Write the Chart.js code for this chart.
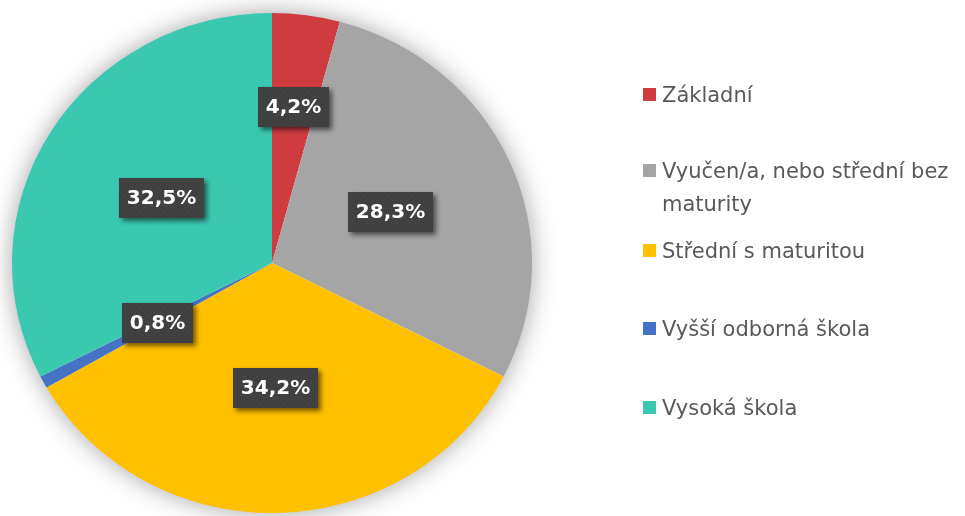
<!DOCTYPE html>
<html>
<head>
<meta charset="utf-8">
<script src="https://cdn.jsdelivr.net/npm/chart.js@4"></script>
<style>
  html, body { margin: 0; padding: 0; background: #ffffff; }
  #wrap { width: 965px; height: 516px; }
</style>
</head>
<body>
<div id="wrap"><canvas id="c" width="965" height="516"></canvas></div>
<script>
// ---- data ----
const categories = ['Základní', 'Vyučen/a, nebo střední bez maturity', 'Střední s maturitou', 'Vyšší odborná škola', 'Vysoká škola'];
const shares = [4.2, 28.3, 34.2, 0.8, 32.5];
const legendLines = [['Základní'], ['Vyučen/a, nebo střední bez', 'maturity'], ['Střední s maturitou'], ['Vyšší odborná škola'], ['Vysoká škola']];
const sliceColors = ['#D03B40', '#A5A5A5', '#FFC000', '#4472C4', '#3AC9B0'];

// ---- styling constants ----
const SY = 250 / 260;            // vertical squash of the pie (reference is slightly elliptical)
const LABEL_FONT = 'bold 20px "DejaVu Sans"';
const LEGEND_FONT = '21px "DejaVu Sans"';

function fmt(v) { return v.toFixed(1).replace('.', ',') + '%'; }

let dotPattern = null;
function getPattern(ctx) {
  if (dotPattern) return dotPattern;
  const p = document.createElement('canvas');
  p.width = 6; p.height = 6;
  const pc = p.getContext('2d');
  pc.fillStyle = '#404040';
  pc.fillRect(0, 0, 6, 6);
  pc.fillStyle = '#4b4b4b';
  pc.fillRect(1, 1, 1, 1);
  pc.fillRect(4, 4, 1, 1);
  dotPattern = ctx.createPattern(p, 'repeat');
  return dotPattern;
}

const piePlugin = {
  id: 'piePlugin',
  beforeDatasetsDraw(chart) {
    const ctx = chart.ctx;
    const arc = chart.getDatasetMeta(0).data[0];
    const cx = arc.x, cy = arc.y, r = arc.outerRadius;
    ctx.save();
    ctx.translate(cx, cy);
    ctx.scale(1, SY);
    ctx.translate(-cx, -cy);
    ctx.save();
    ctx.shadowColor = 'rgba(0,0,0,0.38)';
    ctx.shadowBlur = 26;
    ctx.fillStyle = '#ffffff';
    ctx.beginPath();
    ctx.arc(cx, cy, r - 1, 0, Math.PI * 2);
    ctx.fill();
    ctx.restore();
  },
  afterDatasetsDraw(chart) {
    const ctx = chart.ctx;
    ctx.restore();
    // value labels
    const meta = chart.getDatasetMeta(0);
    ctx.save();
    ctx.font = LABEL_FONT;
    meta.data.forEach((arc, i) => {
      const mid = (arc.startAngle + arc.endAngle) / 2;
      const f = i === 0 ? 0.63 : 0.5;
      const x = arc.x + Math.cos(mid) * arc.outerRadius * f;
      const y = arc.y + Math.sin(mid) * arc.outerRadius * f * SY;
      const txt = fmt(chart.data.datasets[0].data[i]);
      const tw = ctx.measureText(txt).width;
      const w = Math.round(tw + 16), h = 40;
      const bx = Math.round(x - w / 2), by = Math.round(y - h / 2);
      ctx.save();
      ctx.shadowColor = 'rgba(0,0,0,0.55)';
      ctx.shadowBlur = 5;
      ctx.shadowOffsetX = 3;
      ctx.shadowOffsetY = 3;
      ctx.fillStyle = getPattern(ctx);
      ctx.fillRect(bx, by, w, h);
      ctx.restore();
      ctx.fillStyle = '#ffffff';
      ctx.textAlign = 'center';
      ctx.textBaseline = 'middle';
      ctx.fillText(txt, bx + w / 2, by + h / 2 + 1);
    });
    ctx.restore();
  },
  afterDraw(chart) {
    // legend built from chart data and dataset colours
    const ctx = chart.ctx;
    const centers = [94, 170, 250, 328, 407];
    ctx.save();
    ctx.font = LEGEND_FONT;
    ctx.textAlign = 'left';
    ctx.textBaseline = 'alphabetic';
    legendLines.forEach((lines, i) => {
      const cy = centers[i];
      ctx.fillStyle = chart.data.datasets[0].backgroundColor[i];
      ctx.fillRect(643, Math.round(cy - 6.5), 13, 13);
      ctx.fillStyle = '#595959';
      lines.forEach((ln, k) => {
        ctx.fillText(ln, 662, cy + 8 + k * 33);
      });
    });
    ctx.restore();
  }
};

new Chart(document.getElementById('c'), {
  type: 'pie',
  data: {
    labels: categories,
    datasets: [{
      data: shares,
      backgroundColor: sliceColors,
      borderWidth: 0,
      radius: 260,
      clip: false
    }]
  },
  options: {
    responsive: false,
    animation: false,
    layout: { padding: { left: 0, right: 421, top: 10, bottom: 0 } },
    plugins: {
      legend: { display: false },
      tooltip: { enabled: false }
    },
    events: []
  },
  plugins: [piePlugin]
});
</script>
</body>
</html>
